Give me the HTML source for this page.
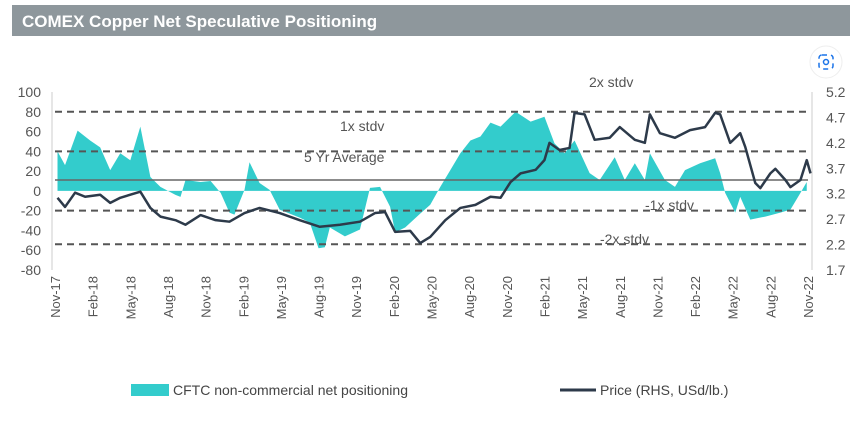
<!DOCTYPE html>
<html><head><meta charset="utf-8"><style>
body{margin:0;background:#fff;width:866px;height:420px;overflow:hidden;font-family:"Liberation Sans",sans-serif}
</style></head><body>
<svg width="866" height="420" id="chart" xmlns="http://www.w3.org/2000/svg" font-family="Liberation Sans, sans-serif">
<rect x="12" y="5" width="838" height="31" fill="#8e979c"/>
<text x="22" y="27" fill="#fff" font-size="17" font-weight="bold">COMEX Copper Net Speculative Positioning</text>
<g><circle cx="826" cy="62" r="16" fill="#fff" stroke="#eee"/><rect x="819" y="55" width="14" height="14" rx="3" fill="none" stroke="#1a73e8" stroke-width="1.5" stroke-dasharray="5 4"/><circle cx="826" cy="62" r="2.5" fill="none" stroke="#1a73e8" stroke-width="1.5"/></g>
<g id="plot"></g>
<g>
<rect x="131" y="384" width="38" height="12" fill="#33cccc"/>
<text x="173" y="395" font-size="14" fill="#444">CFTC non-commercial net positioning</text>
<line x1="560" y1="390" x2="596" y2="390" stroke="#2d3a4a" stroke-width="3"/>
<text x="600" y="395" font-size="14" fill="#444">Price (RHS, USd/lb.)</text>
</g>
</svg>
<script>
const leftTicks=[100,80,60,40,20,0,-20,-40,-60,-80];
const rightTicks=["5.2","4.7","4.2","3.7","3.2","2.7","2.2","1.7"];
const xLabels=["Nov-17","Feb-18","May-18","Aug-18","Nov-18","Feb-19","May-19","Aug-19","Nov-19","Feb-20","May-20","Aug-20","Nov-20","Feb-21","May-21","Aug-21","Nov-21","Feb-22","May-22","Aug-22","Nov-22"];
const refLevels=[80,40,-20,-54];
const avgLevel=11;
const posMonths=[0.2,0.8,1.8,2.8,3.6,4.4,5.2,6.0,6.8,7.6,8.4,9.6,10.0,10.4,11.6,12.4,13.2,13.9,14.3,15.1,15.5,16.3,17.1,17.9,19.5,20.3,21.0,21.5,21.9,23.1,24.3,25.1,25.9,26.7,27.1,27.9,29.1,29.9,30.7,31.5,32.3,33.1,33.9,34.7,35.5,36.7,37.9,39.0,39.8,40.6,41.4,42.6,43.4,44.6,45.4,46.2,47.0,47.4,48.6,49.4,50.2,51.4,52.6,53.0,53.4,54.2,54.6,55.4,56.6,57.8,58.6,59.4,59.9];
const posValues=[40,26,61,51,44,21,38,31,65,14,4,-4,-6,11,9,10,-2,-22,-24,1,29,8,1,-19,-27,-32,-58,-57,-37,-46,-39,3,4,-16,-42,-37,-23,-14,4,21,38,51,55,69,65,80,70,75,48,38,51,18,11,34,11,28,11,38,11,4,21,28,33,18,-2,-22,-6,-29,-26,-22,-19,-2,9];
const priceMonths=[0.2,0.8,1.6,2.4,3.6,4.4,5.2,6.8,7.6,8.4,9.6,10.4,11.6,12.8,13.9,15.1,16.3,17.9,19.5,21.1,22.7,24.3,25.5,26.3,27.1,28.3,29.1,29.9,31.1,32.3,33.5,34.7,35.5,36.3,37.1,38.3,39.0,39.4,40.2,41.0,41.4,42.2,43.0,44.2,45.0,46.2,47.0,47.4,48.2,49.4,50.6,51.8,52.6,53.0,53.8,54.6,55.0,55.8,56.2,57.0,57.4,58.2,58.6,59.4,59.9,60.2];
const priceValues=[3.12,2.94,3.22,3.14,3.18,3.02,3.12,3.24,2.92,2.75,2.68,2.59,2.78,2.68,2.65,2.82,2.92,2.82,2.68,2.55,2.59,2.65,2.82,2.84,2.45,2.47,2.23,2.35,2.68,2.92,2.98,3.14,3.12,3.43,3.6,3.67,3.86,4.2,4.06,4.1,4.79,4.76,4.26,4.3,4.51,4.26,4.2,4.76,4.39,4.3,4.45,4.51,4.79,4.76,4.2,4.39,4.12,3.41,3.31,3.6,3.69,3.47,3.33,3.47,3.86,3.6];
const NS="http://www.w3.org/2000/svg";
const g=document.getElementById('plot');
const X0=55,X1=808,YT=92,YB=270;
const x=m=>X0+(X1-X0)*m/60;
const yL=v=>YT+(100-v)*(YB-YT)/180;
const yR=v=>YT+(5.2-v)*(YB-YT)/3.5;
function mk(tag,attrs){const e=document.createElementNS(NS,tag);for(const k in attrs)e.setAttribute(k,attrs[k]);g.appendChild(e);return e;}
// area
let d=`M${x(posMonths[0])},${yL(0)}`;
posMonths.forEach((m,i)=>{d+=`L${x(m)},${yL(posValues[i])}`;});
d+=`L${x(posMonths[posMonths.length-1])},${yL(0)}Z`;
let a=mk('path',{d,fill:'#33cccc'});


// ref lines
refLevels.forEach(v=>{const l=mk('line',{x1:X0,x2:X1,y1:yL(v),y2:yL(v),stroke:'#555','stroke-width':2,'stroke-dasharray':'7 5'});

});
const av=mk('line',{x1:X0,x2:X1,y1:yL(avgLevel),y2:yL(avgLevel),stroke:'#666','stroke-width':1.5});


// price
let pd='';priceMonths.forEach((m,i)=>{pd+=(i?'L':'M')+x(m)+','+yR(priceValues[i]);});
const pl=mk('path',{d:pd,fill:'none',stroke:'#2d3a4a','stroke-width':2.5,'stroke-linejoin':'round'});


// axes
const la=mk('line',{x1:52,x2:52,y1:YT,y2:YB,stroke:'#ccc'});


const ra=mk('line',{x1:812,x2:812,y1:YT,y2:YB,stroke:'#ccc'});


leftTicks.forEach(v=>{const t=mk('text',{x:41,y:yL(v)+5,'font-size':14,fill:'#555','text-anchor':'end'});t.textContent=v;

});
rightTicks.forEach(v=>{const t=mk('text',{x:826,y:yR(+v)+5,'font-size':14,fill:'#555'});t.textContent=v;

});
xLabels.forEach((s,i)=>{const px=x(i*3)+5;const t=mk('text',{x:0,y:0,'font-size':13,fill:'#555','text-anchor':'end',transform:`translate(${px},276) rotate(-90)`});t.textContent=s;

});
const anns=[["2x stdv",589,87],["1x stdv",340,131],["5 Yr Average",304,162],["-1x stdv",645,210],["-2x stdv",600,244]];
anns.forEach(([s,px,py])=>{const t=mk('text',{x:px,y:py,'font-size':14,fill:'#555'});t.textContent=s;

});
</script>
</body></html>
